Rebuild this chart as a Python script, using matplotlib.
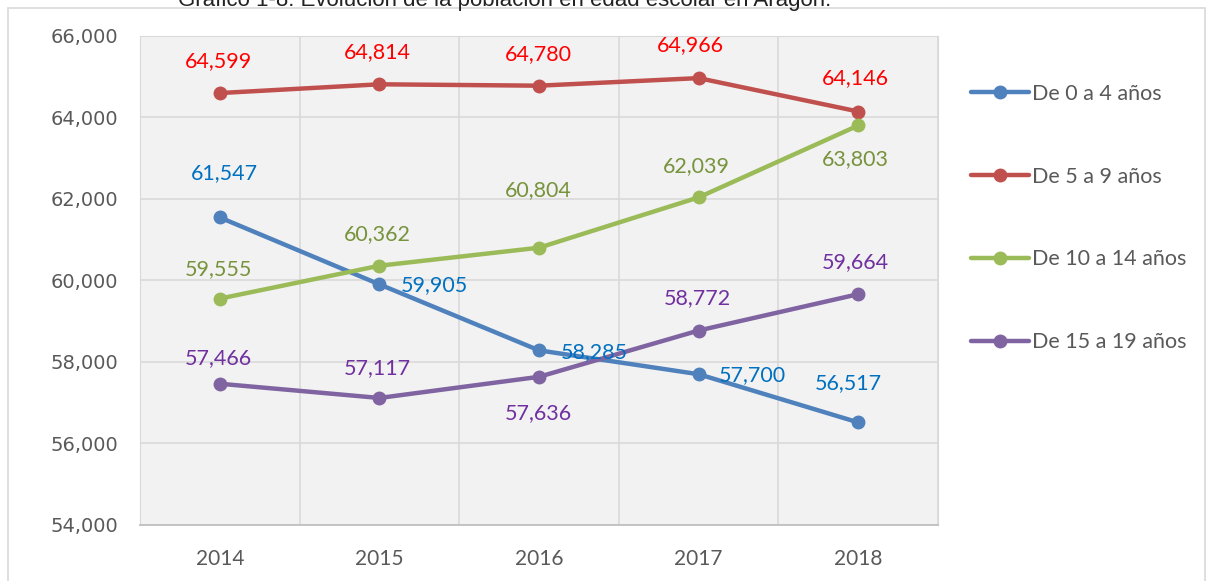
import numpy as np
import matplotlib.pyplot as plt
from matplotlib.patches import Rectangle
from matplotlib.ticker import FuncFormatter, MultipleLocator

# Data
years = ['2014', '2015', '2016', '2017', '2018']
age_0_4 = [61547, 59905, 58285, 57700, 56517]
age_5_9 = [64599, 64814, 64780, 64966, 64146]
age_10_14 = [59555, 60362, 60804, 62039, 63803]
age_15_19 = [57466, 57117, 57636, 58772, 59664]

# label placement (pixel offsets from the point), as in the original chart
pos_0_4 = [(5, 44), (55, -1), (55, -2), (54, -1), (-10, 39)]
pos_5_9 = [(-1, 32), (-2, 32), (-1, 32), (-8, 33), (-3, 33)]
pos_10_14 = [(-1, 30), (-2, 32), (-1, 58), (-2, 31), (-3, -34)]
pos_15_19 = [(-1, 26), (-2, 30), (-1, -36), (-1, 32), (-3, 32)]

series = [
    ('De 0 a 4 años', age_0_4, '#4F81BD', '#0070C0', pos_0_4),
    ('De 5 a 9 años', age_5_9, '#C0504D', '#FF0000', pos_5_9),
    ('De 10 a 14 años', age_10_14, '#9BBB59', '#77933C', pos_10_14),
    ('De 15 a 19 años', age_15_19, '#8064A2', '#7030A0', pos_15_19),
]

label_font = 'Lato'

fig = plt.figure(figsize=(12.11, 5.81), dpi=100)
ax = fig.add_axes([0.1156, 0.0964, 0.659, 0.8417])
ax.set_facecolor('#F2F2F2')

x = np.arange(len(years))
px = 72 / 100  # pixels to points

for name, vals, lc, tc, pos in series:
    ax.plot(x, vals, color=lc, lw=3.2, marker='o', ms=9, label=name,
            solid_capstyle='round', zorder=3)
    for xi, v, (dx, dy) in zip(x, vals, pos):
        ax.annotate(f'{v:,}', (xi, v), xytext=(dx * px, dy * px), textcoords='offset points',
                    ha='center', va='center', color=tc, fontsize=15.5, family=label_font, zorder=4)

ax.set_xlim(-0.5, len(years) - 0.5)
ax.set_ylim(54000, 66000)
ax.yaxis.set_major_locator(MultipleLocator(2000))
ax.yaxis.set_major_formatter(FuncFormatter(lambda v, p: f'{int(v):,}'))
ax.set_xticks(x)
ax.set_xticklabels(years, family=label_font, fontsize=15, color='#595959')
ax.set_xticks(np.arange(-0.5, len(years)), minor=True)
ax.tick_params(axis='y', labelsize=14, colors='#595959', length=0, pad=16)
ax.tick_params(axis='x', which='both', length=0, pad=17)
ax.grid(axis='y', which='major', color='#D9D9D9', lw=1.2)
ax.grid(axis='x', which='minor', color='#D9D9D9', lw=1.2)
ax.set_axisbelow(True)
for s in ['top', 'right', 'left']:
    ax.spines[s].set_color('#D9D9D9')
ax.spines['bottom'].set_color('#BFBFBF')
ax.spines['bottom'].set_linewidth(1.3)

leg = ax.legend(loc='upper left', bbox_to_anchor=(1.03, 0.92), frameon=False,
                prop={'family': label_font, 'size': 15.5}, labelspacing=2.92,
                handlelength=2.7, handletextpad=0.15, borderaxespad=0)
for t in leg.get_texts():
    t.set_color('#595959')

# outer chart border and clipped title
fig.patches.append(Rectangle((0.0066, -0.05), 0.9885, 1.036, transform=fig.transFigure,
                             fill=False, edgecolor='#D9D9D9', lw=1.2))
fig.text(0.417, 0.99, 'Gráfico 1-8: Evolución de la población en edad escolar en Aragón.',
         ha='center', va='baseline', fontsize=16, family='Liberation Sans', color='#222222')

fig.savefig('out.png', dpi=100)
